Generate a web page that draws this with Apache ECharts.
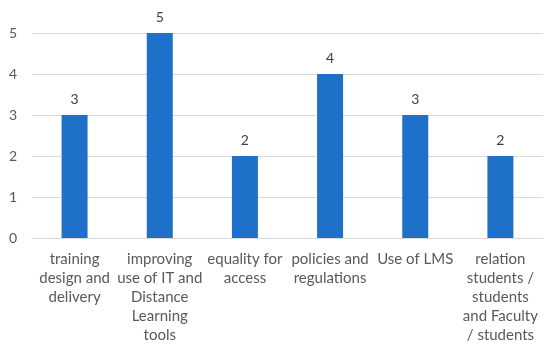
<!DOCTYPE html>
<html><head><meta charset="utf-8">
<script src="https://cdn.jsdelivr.net/npm/echarts@6/dist/echarts.min.js"></script>
<style>html,body{margin:0;padding:0;background:#fff}#c{width:550px;height:352px}</style>
</head><body><div id="c"></div>
<script>
const categories = [
  "training\ndesign and\ndelivery",
  "improving\nuse of IT and\nDistance\nLearning\ntools",
  "equality for\naccess",
  "policies and\nregulations",
  "Use of LMS",
  "relation\nstudents /\nstudents\nand Faculty\n/ students"
];
const values = [3, 5, 2, 4, 3, 2];
const yTicks = [0, 1, 2, 3, 4, 5];

const chart = echarts.init(document.getElementById('c'));
chart.setOption({
  animation: false,
  grid: {left: 32, right: 7, top: 33, bottom: 114},
  xAxis: {
    type: 'category', data: categories,
    axisTick: {show: false},
    axisLine: {lineStyle: {color: '#d9d9d9'}},
    axisLabel: {interval: 0, color: '#595959', fontFamily: 'Lato', fontSize: 15, lineHeight: 19, margin: 12}
  },
  yAxis: {
    type: 'value', min: yTicks[0], max: yTicks[yTicks.length-1], interval: 1,
    axisLine: {show: false}, axisTick: {show: false},
    splitLine: {lineStyle: {color: '#d9d9d9'}},
    axisLabel: {color: '#595959', fontFamily: 'Lato', fontSize: 14, margin: 15}
  },
  series: [{
    type: 'bar', data: values, barWidth: 26,
    itemStyle: {color: '#1f70c8'},
    label: {show: true, position: 'top', color: '#404040', fontFamily: 'Lato', fontSize: 14, distance: 9}
  }]
});
</script></body></html>
